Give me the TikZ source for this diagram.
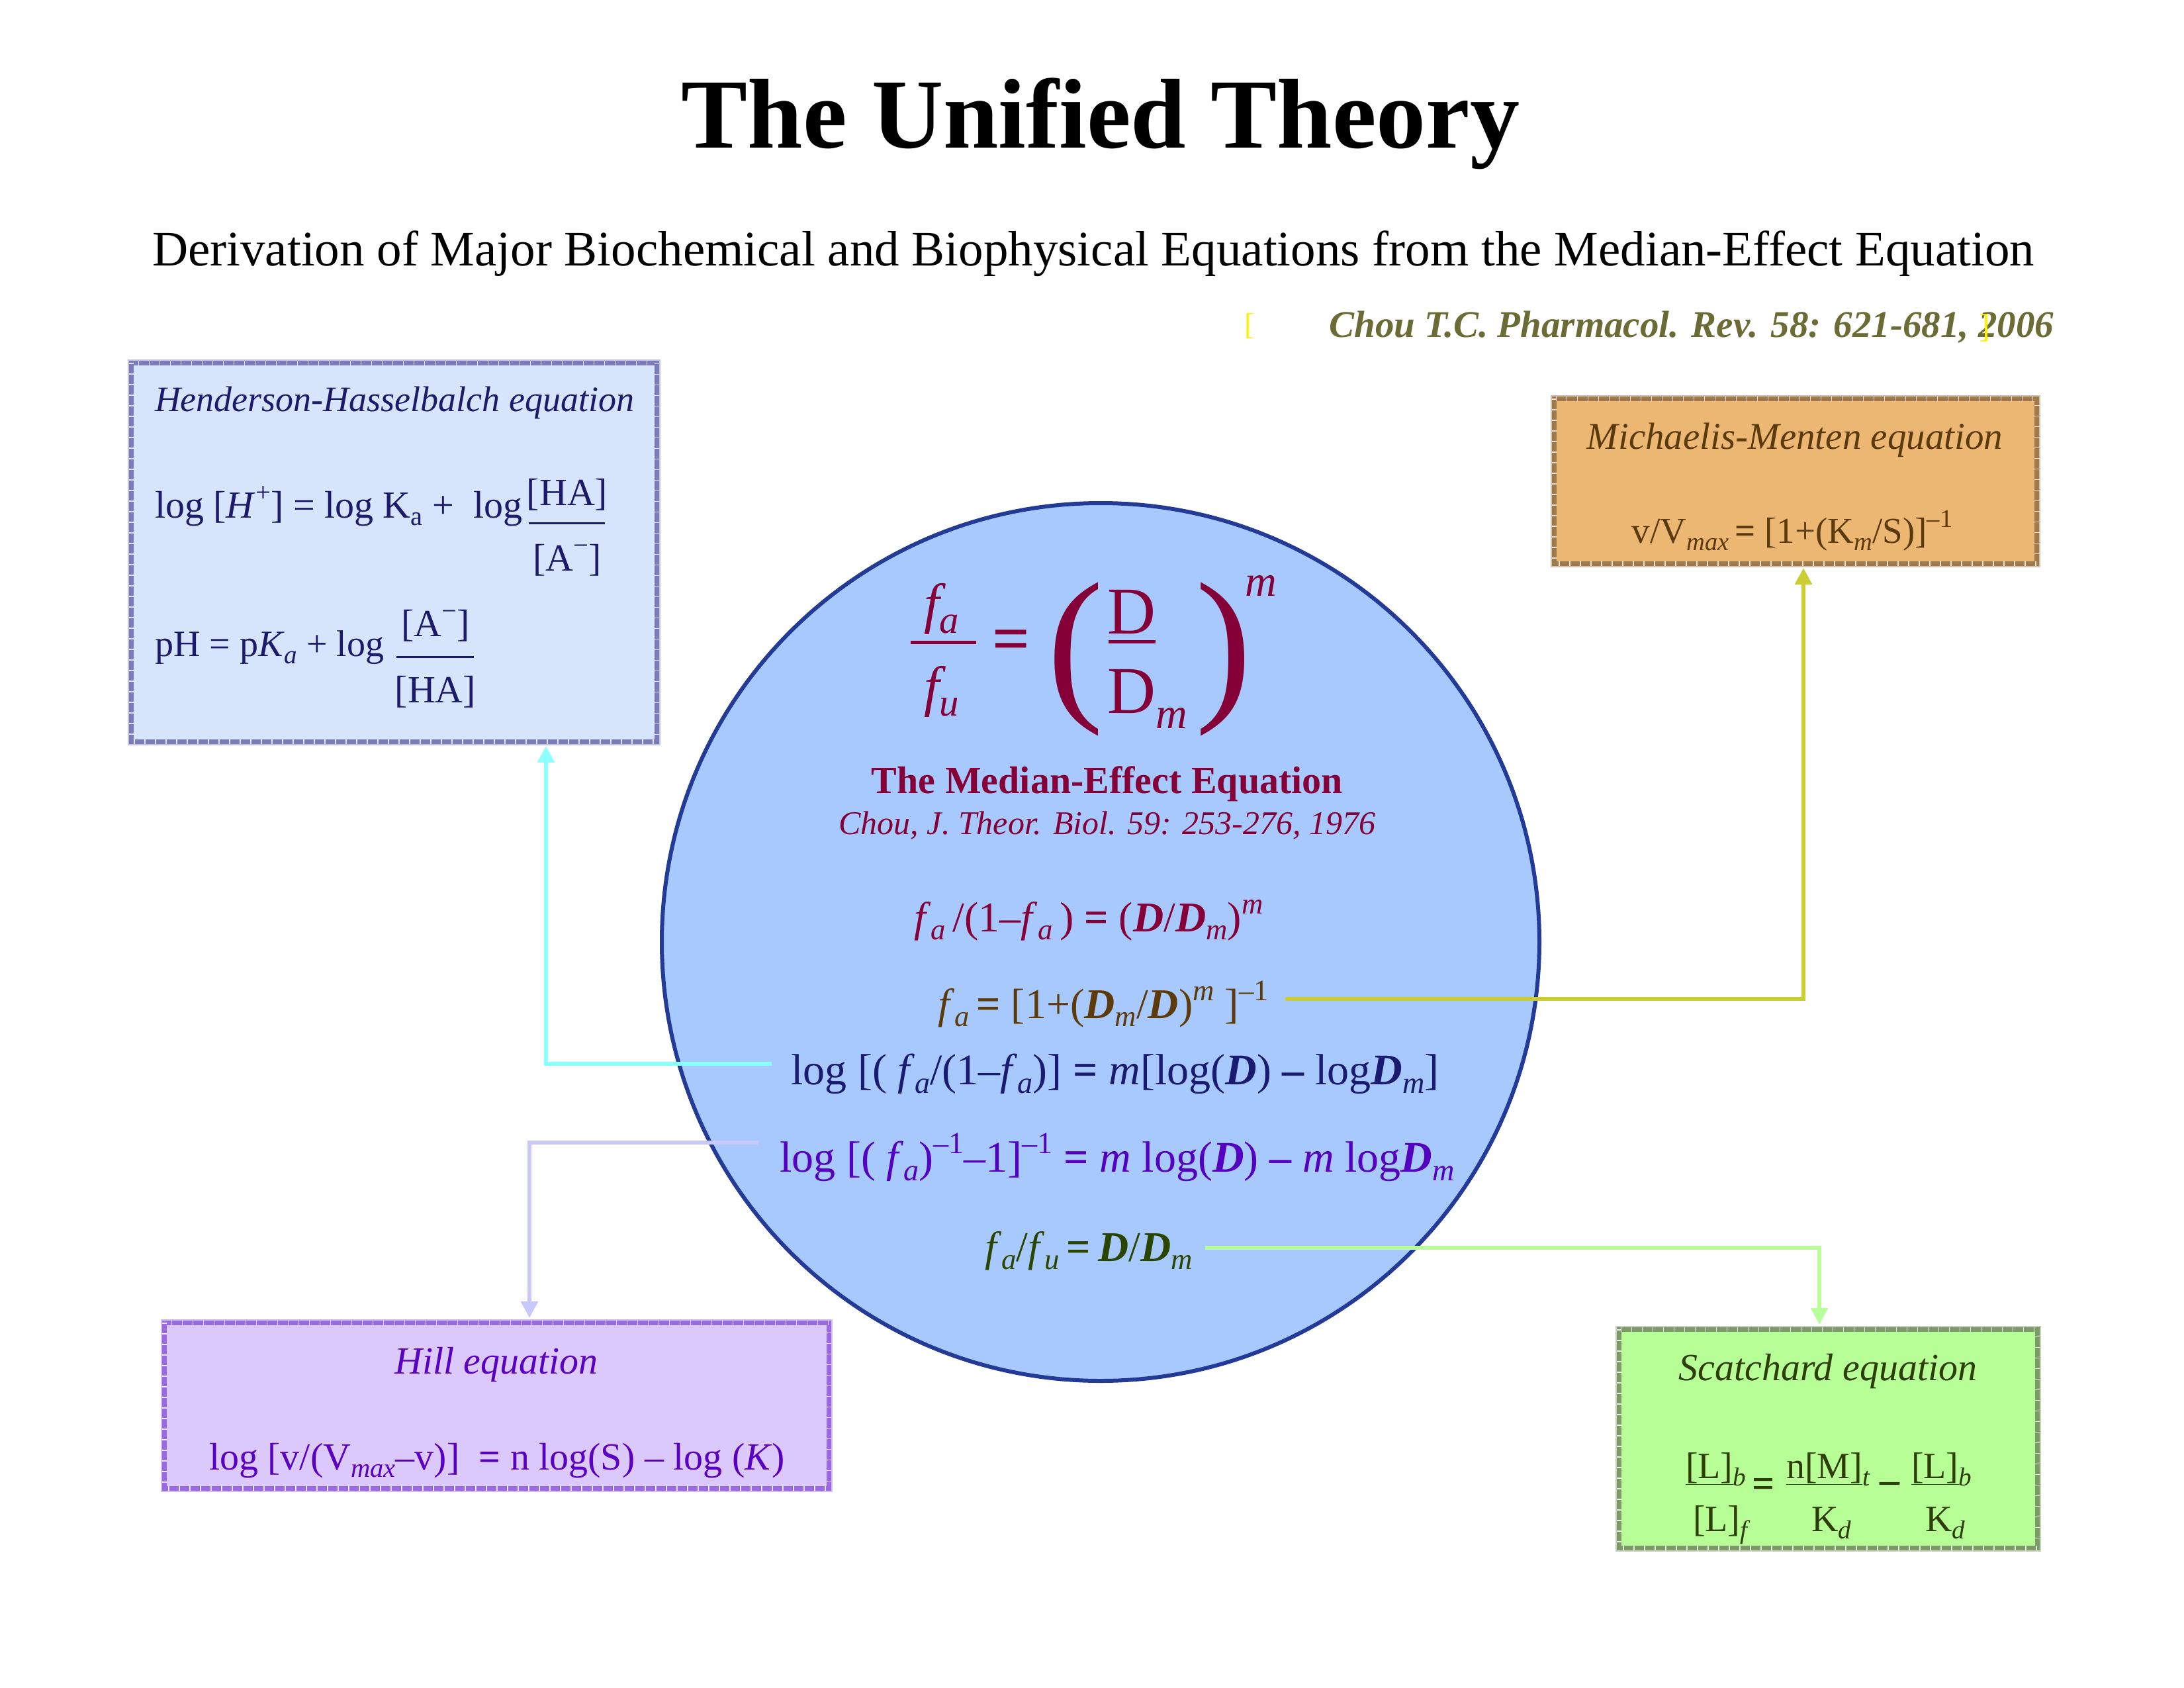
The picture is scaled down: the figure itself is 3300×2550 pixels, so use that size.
\documentclass[tikz,border=0pt]{standalone}
\usepackage{fontspec}
\setmainfont{Liberation Serif}
\usepackage{graphicx}
\usetikzlibrary{arrows.meta,calc}
\definecolor{hhfill}{HTML}{D7E5FC}
\definecolor{hhdraw}{HTML}{7B7BBB}
\definecolor{hhtext}{HTML}{1C1A6B}
\definecolor{mmfill}{HTML}{ECB773}
\definecolor{mmdraw}{HTML}{A07A4A}
\definecolor{mmtext}{HTML}{5A3A0C}
\definecolor{cfill}{HTML}{A7C9FD}
\definecolor{cdraw}{HTML}{233A96}
\definecolor{maroonc}{HTML}{850036}
\definecolor{hillfill}{HTML}{DBC9FB}
\definecolor{hilldraw}{HTML}{9A6AE0}
\definecolor{hilltext}{HTML}{5A00C2}
\definecolor{scfill}{HTML}{B7FE97}
\definecolor{scdraw}{HTML}{7E9A68}
\definecolor{sctext}{HTML}{2D3D05}
\definecolor{citec}{HTML}{6B6B35}
\definecolor{navyc}{HTML}{1A1A70}
\definecolor{purpc}{HTML}{5500C0}
\definecolor{dgreen}{HTML}{2A4500}
\definecolor{brownc}{HTML}{5C3A0A}
\definecolor{cyanl}{HTML}{8CFFFF}
\definecolor{yell}{HTML}{CCCC33}
\definecolor{lav}{HTML}{C8C8FA}
\definecolor{lgreen}{HTML}{B8FF9C}
\newcommand\fs[1]{\fontsize{#1}{#1}\selectfont}
\newcommand\mysub[1]{\raisebox{-0.2em}{\scalebox{0.7}{#1}}}
\newcommand\mysup[1]{\raisebox{0.42em}{\scalebox{0.7}{#1}}}
\newcommand\ia{\mysub{\textit{a}}}
\newcommand\im{\mysub{\textit{m}}}
\newcommand\bD{\textbf{\textit{D}}}
\newcommand\fancyborder[2]{%
  \draw[#2!45!white, line width=2pt] ([shift={(-4.5pt,4.5pt)}]#1.north west) rectangle ([shift={(4.5pt,-4.5pt)}]#1.south east);
  \draw[#2, line width=7pt] (#1.north west) rectangle (#1.south east);
  \draw[white!80!#2, line width=7pt, dash pattern=on 1.5pt off 14.5pt] (#1.north west) rectangle (#1.south east);
}
\begin{document}
\begin{tikzpicture}[x=1pt,y=-1pt, every node/.style={inner sep=0pt, outer sep=0pt},
  conn/.style={line width=6pt, shorten >=7pt, -{Triangle[length=25pt,width=25pt]}},
  eqbox/.style={rectangle, draw=none}]
\useasboundingbox (0,0) rectangle (3300,2550);
\fill[white] (0,0) rectangle (3300,2550);

% Titles
\node[anchor=base, font=\bfseries\fs{150}] (title) at (1663,223) {The Unified Theory};
\node[anchor=base, font=\fs{75}] (subtitle) at (1652,401) {Derivation of Major Biochemical and Biophysical Equations from the Median-Effect Equation};
\node[anchor=base east, font=\bfseries\itshape\fs{57}, text=citec] (cite) at (3103,509) {Chou T.C. Pharmacol. Rev. 58: 621-681, 2006};
\node[anchor=base, font=\fs{46}, text=yellow] (brl) at (1888,505) {[};
\node[anchor=base, font=\fs{50}, text=yellow] (brr) at (2999,509) {]};

% Boxes
\node[eqbox, fill=hhfill, minimum width=794pt, minimum height=572pt] (hh) at (595,834) {};
\fancyborder{hh}{hhdraw}
\node[eqbox, fill=mmfill, minimum width=729pt, minimum height=249pt] (mm) at (2712.5,726.5) {};
\fancyborder{mm}{mmdraw}
\node[eqbox, fill=hillfill, minimum width=1004pt, minimum height=250pt] (hill) at (750,2123) {};
\fancyborder{hill}{hilldraw}
\node[eqbox, fill=scfill, minimum width=632pt, minimum height=330pt] (sc) at (2762,2173) {};
\fancyborder{sc}{scdraw}

% Circle
\node[circle, draw=cdraw, fill=cfill, line width=6pt, minimum size=1326pt] (med) at (1663,1423) {};

% Henderson-Hasselbalch
\begin{scope}[text=hhtext]
\node[anchor=base west, font=\itshape\fs{54}] (hht) at (234,621) {Henderson-Hasselbalch equation};
\node[anchor=base west, font=\fs{58}] (hh1) at (234,782) {log [\textit{H}\mysup{+}] = log K\mysub{a} + \ log};
\node[anchor=base, font=\fs{58}] (hh1n) at (857,763) {[HA]};
\node[anchor=base, font=\fs{58}] (hh1d) at (857,862) {[A\mysup{−}]};
\draw[hhtext, line width=3pt] (799,790) -- (914,790);
\node[anchor=base west, font=\fs{56}] (hh2) at (234,991) {pH = p\textit{K}\mysub{\textit{a}} + log};
\node[anchor=base, font=\fs{58}] (hh2n) at (658,961) {[A\mysup{−}]};
\node[anchor=base, font=\fs{58}] (hh2d) at (658,1061) {[HA]};
\draw[hhtext, line width=3pt] (599,992) -- (716,992);
\end{scope}

% Michaelis-Menten
\node[anchor=base, font=\itshape\fs{57}, text=mmtext] (mmt) at (2712,678) {Michaelis-Menten equation};
\node[anchor=base, font=\fs{55}, text=mmtext] (mmeq) at (2708,820) {v/V\mysub{\textit{max}}\,\textbf{=} [1+(K\mysub{\textit{m}}/S)]\mysup{–1}};

% Hill
\node[anchor=base, font=\itshape\fs{58}, text=hilltext] (hillt) at (750,2075) {Hill equation};
\node[anchor=base, font=\fs{58}, text=hilltext] (hilleq) at (751,2220) {log [v/(V\mysub{\textit{max}}–v)] \ \textbf{=} n log(S) – log (\textit{K})};

% Scatchard
\begin{scope}[text=sctext]
\node[anchor=base, font=\itshape\fs{58}] (sct) at (2762,2085) {Scatchard equation};
\node[anchor=base west, font=\fs{56}] (sn1) at (2547,2233) {\underline{[L]}\mysub{\textit{b}}};
\node[font=\bfseries\fs{60}] (seq) at (2665,2247) {=};
\node[anchor=base west, font=\fs{56}] (sn2) at (2699,2233) {\underline{n[M]}\mysub{\textit{t}}};
\node[font=\bfseries\fs{60}] (smin) at (2855,2247) {–};
\node[anchor=base west, font=\fs{56}] (sn3) at (2888,2233) {\underline{[L]}\mysub{\textit{b}}};
\node[anchor=base west, font=\fs{56}] (sd1) at (2558,2313) {[L]\mysub{\textit{f}}};
\node[anchor=base west, font=\fs{56}] (sd2) at (2737,2313) {K\mysub{\textit{d}}};
\node[anchor=base west, font=\fs{56}] (sd3) at (2909,2313) {K\mysub{\textit{d}}};
\end{scope}

% Median-effect big equation
\begin{scope}[text=maroonc]
\node[anchor=base, font=\itshape\fs{84}] (fa) at (1423,940) {f\mysub{a}};
\node[anchor=base, font=\itshape\fs{84}] (fu) at (1423,1065) {f\mysub{u}};
\draw[maroonc, line width=5pt] (1376,970) -- (1475,970);
\node[font=\bfseries\fs{100}] (eqs) at (1528,975) {=};
\node[font=\fs{256}] (lp) at (1625,996) {(};
\node[font=\fs{256}] (rp) at (1849,996) {)};
\node[anchor=base, font=\fs{101}] (dn) at (1710,957) {D};
\draw[maroonc, line width=5pt] (1675,969) -- (1746,969);
\node[anchor=base west, font=\fs{101}] (dd) at (1673,1077) {D};
\node[anchor=base west, font=\itshape\fs{66}] (ddm) at (1746,1100) {m};
\node[anchor=base west, font=\itshape\fs{66}] (supm) at (1881,900) {m};
\node[anchor=base, font=\bfseries\fs{58}] (metitle) at (1673,1198) {The Median-Effect Equation};
\node[anchor=base, font=\itshape\fs{50}] (mecite) at (1673,1260) {Chou, J. Theor. Biol. 59: 253-276, 1976};
\node[anchor=base, font=\fs{64}] (l1) at (1645,1407) {\textit{f}\ia\,/(1–\textit{f}\ia\,) \textbf{=} (\bD/\bD\im)\mysup{\textit{m}}};
\end{scope}
\node[anchor=base, font=\fs{64}, text=brownc] (l2) at (1667,1538) {\textit{f}\ia\,\textbf{=} [1+(\bD\im/\bD)\mysup{\textit{m}} ]\mysup{–1}};
\node[anchor=base, font=\fs{66}, text=navyc] (l3) at (1685,1638) {log [( \textit{f}\ia/(1–\textit{f}\ia)] \textbf{=} \textit{m}[log(\bD) \textbf{–} log\bD\im]};
\node[anchor=base, font=\fs{66}, text=purpc] (l4) at (1688,1770) {log [( \textit{f}\ia)\mysup{–1}–1]\mysup{–1} \textbf{=} \textit{m} log(\bD) \textbf{–} \textit{m} log\bD\im};
\node[anchor=base, font=\fs{64}, text=dgreen] (l5) at (1645,1905) {\textit{f}\ia/\textit{f}\mysub{\textit{u}}\,\textbf{=}\,\bD/\bD\im};

% Connectors
\draw[conn, cyanl] ([shift={(-29pt,31pt)}]l3.base west) -| ([xshift=627pt]hh.south west);
\draw[conn, yell] ([shift={(25pt,29pt)}]l2.base east) -| ([xshift=377pt]mm.south west);
\draw[conn, lav] ([shift={(-32pt,44pt)}]l4.base west) -| ([xshift=552pt]hill.north west);
\draw[conn, lgreen] ([shift={(19pt,20pt)}]l5.base east) -| ([xshift=303pt]sc.north west);
\end{tikzpicture}
\end{document}
